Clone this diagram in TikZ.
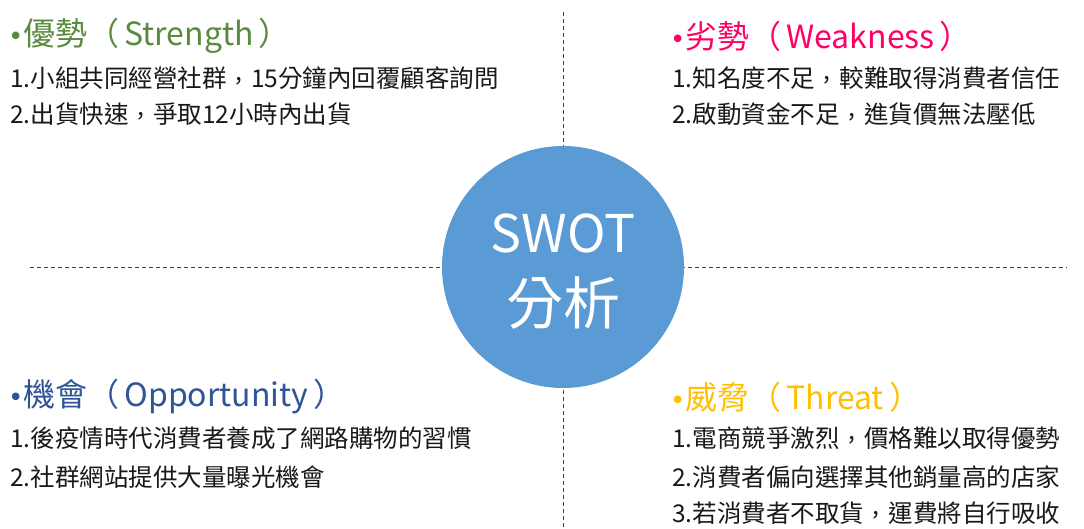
\documentclass[tikz,border=0pt]{standalone}
\usepackage{fontspec}
\setmainfont{Noto Sans CJK TC}
\newfontfamily\bulletfont{DejaVu Sans}
\newcommand{\hb}{{\bulletfont\fontsize{26}{30}\selectfont •}}
\newcommand{\pl}{（\hspace{5pt}}
\newcommand{\pr}{\hspace{5pt}）}
\newcommand{\cm}{\makebox[1em][c]{\raisebox{0.3em}{,}}}
\definecolor{sgreen}{HTML}{5A8A3C}
\definecolor{wpink}{HTML}{FF0066}
\definecolor{oblue}{HTML}{2F5597}
\definecolor{tgold}{HTML}{FFC000}
\definecolor{cblue}{HTML}{5B9BD5}
\definecolor{dline}{HTML}{404040}
\tikzset{
  divider/.style={draw=dline, line width=1pt, dash pattern=on 4pt off 3pt},
  heading/.style={anchor=west, inner sep=0pt, font=\fontsize{32}{36}\selectfont},
  item/.style={anchor=west, inner sep=0pt, text=black!90, font=\fontsize{24.5}{28}\selectfont},
  centrecircle/.style={circle, fill=cblue, minimum size=242pt, inner sep=0pt},
  centretext/.style={text=white, inner sep=0pt, font=\fontsize{52}{56}\selectfont},
  centretextb/.style={text=white, inner sep=0pt, font=\fontsize{57}{60}\selectfont}
}
\begin{document}
\begin{tikzpicture}[x=1pt,y=-1pt]
\useasboundingbox (0,0) rectangle (1084,528);
\fill[white] (0,0) rectangle (1084,528);
% dividers
\coordinate (vtop) at (563,12);
\coordinate (vbot) at (563,528);
\coordinate (hleft) at (30,267);
\coordinate (hright) at (1067,267);
\draw[divider] (vtop) -- (vbot);
\draw[divider] (hleft) -- (hright);
% centre circle
\node[centrecircle] (swot) at (563,267) {};
\node[centretext] (swott) at (563,233) {SWOT};
\node[centretextb] (swotc) at (563,303) {分析};
% Strength
\node[heading, text=sgreen] (sh) at (8,36) {\hb 優勢\pl Strength\pr};
\node[item] (s1) at (10,78) {1.小組共同經營社群\cm 15分鐘內回覆顧客詢問};
\node[item] (s2) at (10,114) {2.出貨快速\cm 爭取12小時內出貨};
% Weakness
\node[heading, text=wpink] (wh) at (670,36) {\hb 劣勢\pl Weakness\pr};
\node[item] (w1) at (672,78) {1.知名度不足\cm 較難取得消費者信任};
\node[item] (w2) at (672,114) {2.啟動資金不足\cm 進貨價無法壓低};
% Opportunity
\node[heading, text=oblue] (oh) at (8,397) {\hb 機會\pl Opportunity\pr};
\node[item] (o1) at (10,438) {1.後疫情時代消費者養成了網路購物的習慣};
\node[item] (o2) at (10,477) {2.社群網站提供大量曝光機會};
% Threat
\node[heading, text=tgold] (th) at (670,397) {\hb 威脅\pl Threat\pr};
\node[item] (t1) at (672,438) {1.電商競爭激烈\cm 價格難以取得優勢};
\node[item] (t2) at (672,477) {2.消費者偏向選擇其他銷量高的店家};
\node[item] (t3) at (672,513) {3.若消費者不取貨\cm 運費將自行吸收};
\end{tikzpicture}
\end{document}
